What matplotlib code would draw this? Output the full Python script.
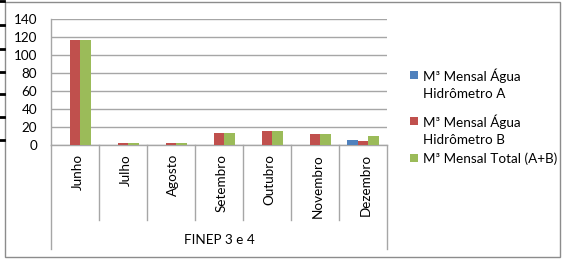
import matplotlib
matplotlib.use("Agg")
import matplotlib.pyplot as plt
import matplotlib.transforms as mtransforms
from matplotlib.patches import Rectangle
from matplotlib.lines import Line2D
import numpy as np

plt.rcParams['font.family'] = ['Lato', 'DejaVu Sans']

months = ["Junho", "Julho", "Agosto", "Setembro", "Outubro", "Novembro", "Dezembro"]
serie_a = [0, 0, 0, 0, 0, 0, 5.5]
serie_b = [117, 3, 3, 14, 15.5, 12.3, 4.5]
serie_total = [117, 3, 3, 14, 15.5, 12.5, 10.2]
labels = ["M³ Mensal Água\nHidrômetro A", "M³ Mensal Água\nHidrômetro B", "M³ Mensal Total (A+B)"]
colors = ["#4F81BD", "#C0504D", "#9BBB59"]
group_label = "FINEP 3 e 4"
yticks = [0, 20, 40, 60, 80, 100, 120, 140]

W, H = 562, 262
fig = plt.figure(figsize=(W / 100, H / 100), dpi=100)

def fx(px):
    return px / W

def fy(py):
    return 1 - py / H

ax_l, ax_r, ax_t, ax_b = 51, 387, 19, 145.3
ax = fig.add_axes([fx(ax_l), fy(ax_b), fx(ax_r) - fx(ax_l), fy(ax_t) - fy(ax_b)])

x = np.arange(len(months))
w = 0.22
for i, (vals, c) in enumerate(zip([serie_a, serie_b, serie_total], colors)):
    ax.bar(x + (i - 1) * w, vals, width=w, color=c, edgecolor='none', zorder=3)

ax.set_xlim(-0.5, len(months) - 0.5)
ax.set_ylim(0, 140)
ax.set_yticks(yticks)
ax.set_yticklabels([str(v) for v in yticks], fontsize=9.7)
ax.tick_params(axis='y', length=0, pad=10)
ax.set_xticks([])
ax.grid(axis='y', color='#a6a6a6', linewidth=1, zorder=0)
for s in ['top', 'right']:
    ax.spines[s].set_visible(False)
for s in ['left', 'bottom']:
    ax.spines[s].set_color('#a6a6a6')
    ax.spines[s].set_linewidth(1)

axh = ax_b - ax_t
trans = mtransforms.blended_transform_factory(ax.transData, ax.transAxes)
inner_bottom = -(220 - ax_b) / axh
outer_bottom = -(249 - ax_b) / axh
for k in range(len(months) + 1):
    xb = k - 0.5
    yb = outer_bottom if k in (0, len(months)) else inner_bottom
    ax.plot([xb, xb], [0, yb], transform=trans, color='#a6a6a6', lw=1, clip_on=False)

label_top = -(154 - ax_b) / axh
for i, m in enumerate(months):
    ax.text(i + 0.05, label_top, m, transform=trans,
            rotation=90, ha='center', va='top', fontsize=9.7)

ax.text((len(months) - 1) / 2, -(240 - ax_b) / axh, group_label, transform=trans,
        ha='center', va='center', fontsize=9.7)

# legend (manual)
sq_y = [75, 121, 158]
for lab, c, yc in zip(labels, colors, sq_y):
    fig.patches.append(Rectangle((fx(410), fy(yc + 4)), fx(8), 8 / H, facecolor=c,
                                 edgecolor='none', transform=fig.transFigure, figure=fig))
    for j, line in enumerate(lab.split("\n")):
        fig.text(fx(423), fy(yc + 1 + j * 18), line, ha='left', va='center', fontsize=9.7)

# outer frame
fig.patches.append(Rectangle((fx(5), fy(257)), fx(555), 255 / H, facecolor='none',
                             edgecolor='#8c8c8c', lw=1, transform=fig.transFigure, figure=fig))

# left edge marks
for yy in [1, 25, 49, 72, 94, 117, 140]:
    fig.lines.append(Line2D([fx(0), fx(3.5)], [fy(yy), fy(yy)], color='black', lw=2,
                            transform=fig.transFigure, figure=fig))

fig.savefig("out.png", dpi=100)
